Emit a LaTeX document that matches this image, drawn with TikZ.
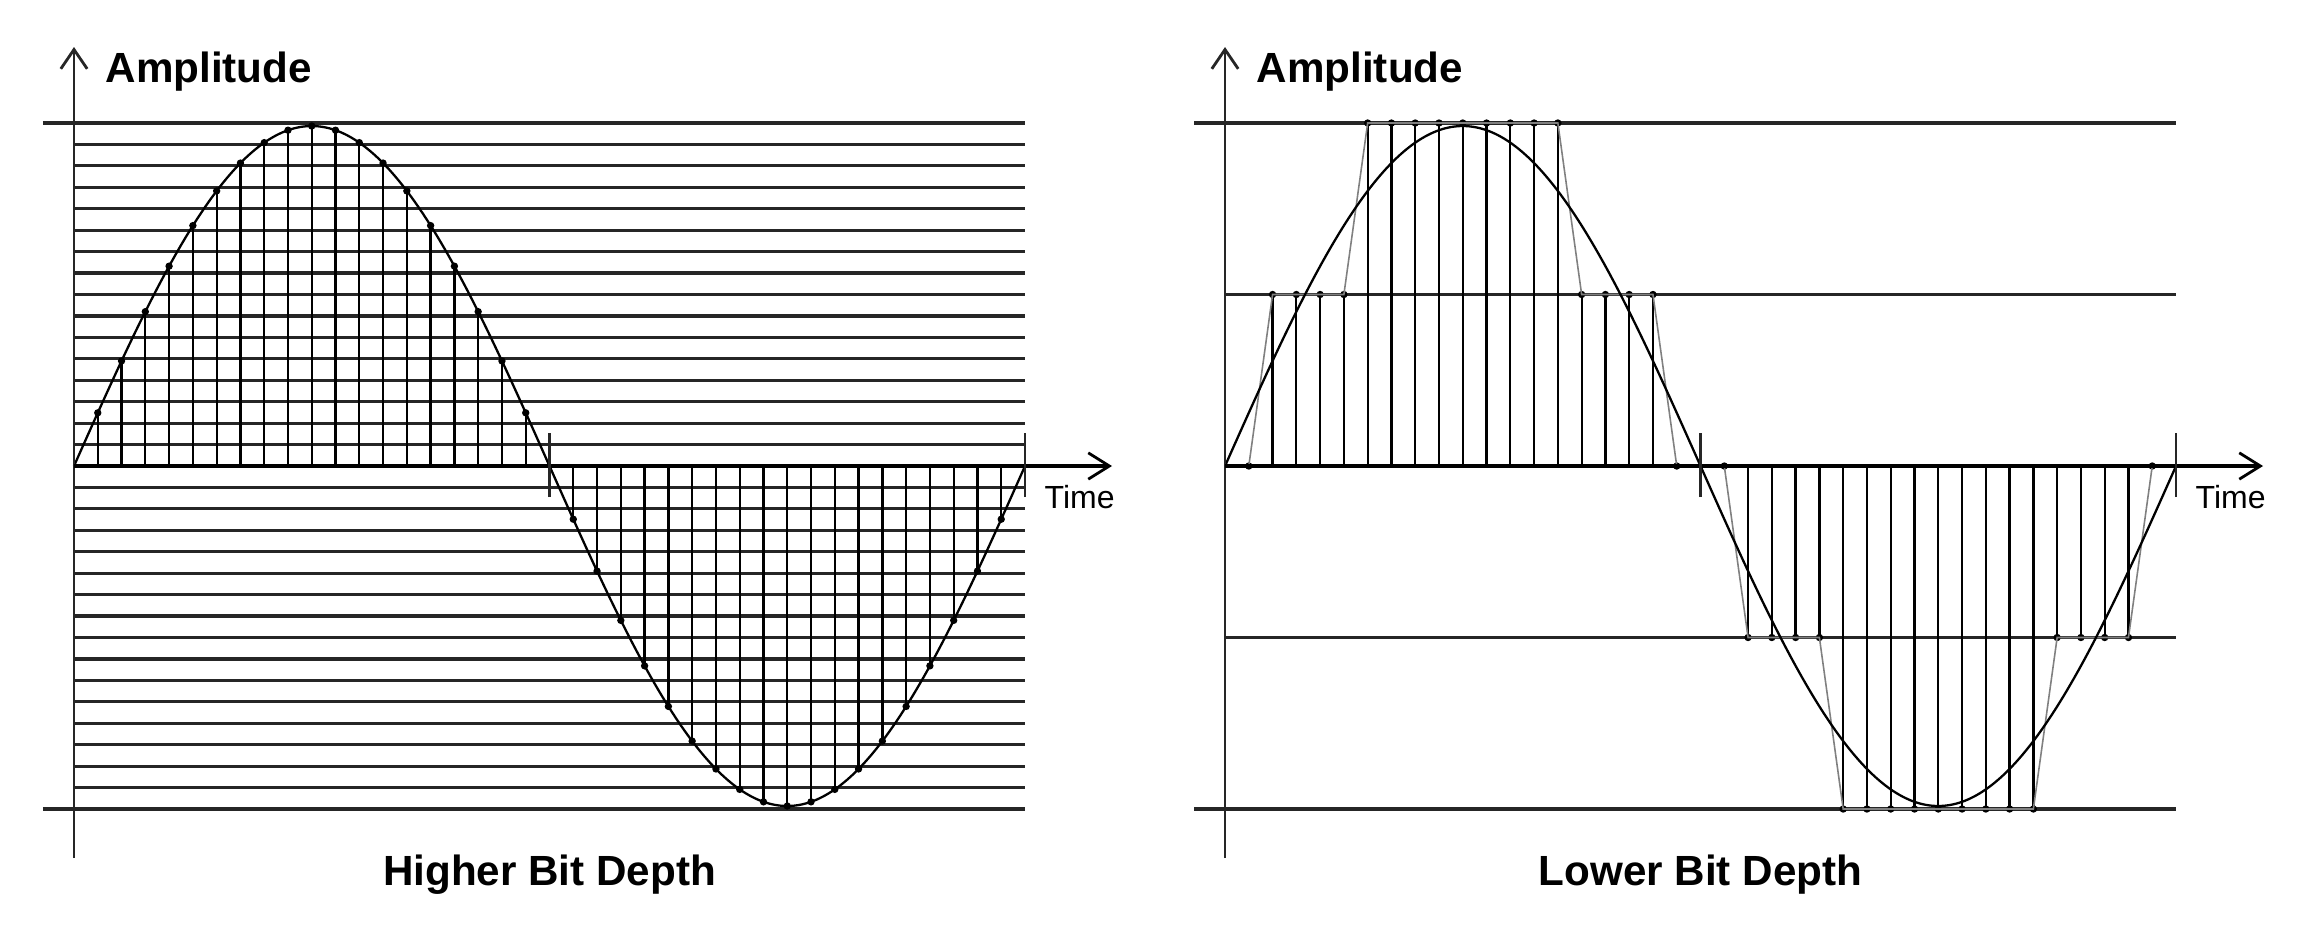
\documentclass[tikz,border=0pt]{standalone}
\usepackage{fontspec}
\setmainfont{Liberation Sans}
\usetikzlibrary{arrows.meta}
\tikzset{
  level/.style={line width=0.9pt,black!85},
  stem/.style={line width=0.65pt},
  wave/.style={line width=0.65pt},
  quant/.style={line width=0.45pt,gray},
  axisline/.style={line width=0.8pt,black!85,-{Straight Barb[length=5.5pt,width=7.5pt,line width=0.8pt]}},
  timeline/.style={line width=1.3pt,-{Straight Barb[length=6pt,width=7.5pt,line width=0.8pt]}},
  marker/.style={line width=0.75pt,black!85},
  bigtext/.style={inner sep=0pt,font=\fontsize{12}{14}\selectfont\bfseries},
  smalltext/.style={inner sep=0pt,font=\fontsize{9.1}{11}\selectfont},
}
\newcommand{\sampdx}{23.775}
\newcommand{\sinamp}{340}
\begin{document}
\begin{tikzpicture}[x=0.01cm,y=0.01cm]
\useasboundingbox (-74,-466) rectangle (2236,466);
% higher bit depth: 16 levels each side
\foreach \j in {-16,...,16}
  \draw[level] (0,{\j*21.4375}) -- (951,{\j*21.4375});
\draw[level] (-31,343) -- (0,343);
\draw[level] (-31,-343) -- (0,-343);
\foreach \k in {1,...,39}{
  \ifnum\k=20\else
    \draw[stem] ({\k*\sampdx},0) -- ({\k*\sampdx},{\sinamp*sin(\k*9)});
    \fill ({\k*\sampdx},{\sinamp*sin(\k*9)}) circle[radius=1.05pt];
  \fi}
\draw[wave] plot[domain=0:40,samples=161,smooth] ({\x*\sampdx},{\sinamp*sin(\x*9)});
% lower bit depth: 2 levels each side
\begin{scope}[shift={(1151,0)}]
\foreach \j in {-2,...,2}
  \draw[level] (0,{\j*171.5}) -- (951,{\j*171.5});
\draw[level] (-31,343) -- (0,343);
\draw[level] (-31,-343) -- (0,-343);
\foreach \k in {1,...,39}{
  \ifnum\k=20\else
    \pgfmathsetmacro\q{171.5*round(2*sin(\k*9))}
    \draw[stem] ({\k*\sampdx},0) -- ({\k*\sampdx},\q);
    \fill ({\k*\sampdx},\q) circle[radius=1.05pt];
  \fi}
\draw[quant] plot[domain=0:40,samples=41] ({\x*\sampdx},{171.5*round(2*sin(\x*9))});
\draw[wave] plot[domain=0:40,samples=161,smooth] ({\x*\sampdx},{\sinamp*sin(\x*9)});
\end{scope}
% axes and labels for both
\foreach \sx/\nm/\ttl in {0/hi/Higher Bit Depth,1151/lo/Lower Bit Depth}{
  \begin{scope}[shift={(\sx,0)}]
  \draw[axisline] (0,-392) -- (0,419);
  \draw[timeline] (0,0) -- (1038,0);
  \draw[marker] (475.5,-31) -- (475.5,33);
  \draw[marker] (951,-31) -- (951,33);
  \node[bigtext,anchor=base west] (amp-\nm) at (31,384) {Amplitude};
  \node[smalltext,anchor=base west] (time-\nm) at (970,-42) {Time};
  \node[bigtext,anchor=base] (title-\nm) at (475.5,-419) {\ttl};
  \end{scope}}
\end{tikzpicture}
\end{document}
